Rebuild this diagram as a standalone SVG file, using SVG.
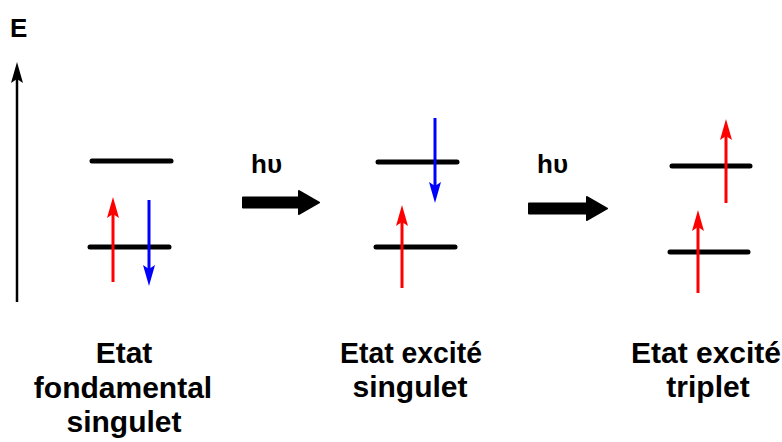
<svg xmlns="http://www.w3.org/2000/svg" width="782" height="442" viewBox="0 0 782 442">
<style>
.lvl{stroke:#000;stroke-width:5;stroke-linecap:round;fill:none}
.up{stroke:#FF0000;stroke-width:3;fill:none}
.dn{stroke:#0000FF;stroke-width:3;fill:none}
.big{fill:#000;stroke:#000;stroke-width:2;stroke-linejoin:round}
.lbl{font-family:"Liberation Sans",Arial,sans-serif;font-weight:bold;font-size:30px;fill:#000;text-anchor:middle}
.hv{font-family:"Liberation Sans",Arial,sans-serif;font-weight:bold;font-size:26px;fill:#000}
</style>
<defs>
<marker id="hr" markerUnits="userSpaceOnUse" markerWidth="22" markerHeight="12" refX="4" refY="6" orient="auto" viewBox="0 0 22 12"><path d="M0,0 L21,6 L0,12 L4,6 Z" fill="#FF0000"/></marker>
<marker id="hb" markerUnits="userSpaceOnUse" markerWidth="22" markerHeight="12" refX="4" refY="6" orient="auto" viewBox="0 0 22 12"><path d="M0,0 L21,6 L0,12 L4,6 Z" fill="#0000FF"/></marker>
<marker id="hk" markerUnits="userSpaceOnUse" markerWidth="22" markerHeight="12" refX="4" refY="6" orient="auto" viewBox="0 0 22 12"><path d="M0,0 L21,6 L0,12 L4,6 Z" fill="#000"/></marker>
</defs>
<g id="axis">
<line x1="17" y1="302" x2="17" y2="79" stroke="#000" stroke-width="2.5" marker-end="url(#hk)"/>
<text x="10" y="37" class="hv" font-size="25">E</text>
</g>
<g id="state1">
<line class="lvl" x1="92" y1="161" x2="171" y2="161"/>
<line class="lvl" x1="90" y1="247" x2="169" y2="247"/>
<text class="lbl" x="124" y="363">Etat</text>
<text class="lbl" x="123" y="398">fondamental</text>
<text class="lbl" x="124" y="432">singulet</text>
</g>
<g id="state2">
<line class="lvl" x1="378" y1="162" x2="457" y2="162"/>
<line class="lvl" x1="376" y1="247" x2="455" y2="247"/>
<text class="lbl" x="411" y="363" textLength="142" lengthAdjust="spacingAndGlyphs">Etat excité</text>
<text class="lbl" x="410" y="397">singulet</text>
</g>
<g id="state3">
<line class="lvl" x1="672" y1="166" x2="750" y2="166"/>
<line class="lvl" x1="670" y1="252" x2="748" y2="252"/>
<text class="lbl" x="706" y="363" font-size="28">Etat excité</text>
<text class="lbl" x="708" y="397">triplet</text>
</g>
<g id="connectors">
<line class="up" x1="113" y1="282" x2="113" y2="214" marker-end="url(#hr)"/>
<line class="dn" x1="149" y1="200" x2="149" y2="269" marker-end="url(#hb)"/>
<line class="dn" x1="435" y1="118" x2="435" y2="186" marker-end="url(#hb)"/>
<line class="up" x1="402" y1="288" x2="402" y2="222" marker-end="url(#hr)"/>
<line class="up" x1="726" y1="203" x2="726" y2="136" marker-end="url(#hr)"/>
<line class="up" x1="698" y1="293" x2="698" y2="227" marker-end="url(#hr)"/>
<path class="big" d="M243,197.5 L299,197.5 L299,191 L319,202.5 L299,214 L299,207.5 L243,207.5 Z"/>
<path class="big" d="M529,203.5 L587,203.5 L587,197 L607,208.5 L587,220 L587,213.5 L529,213.5 Z"/>
<text class="hv" x="251" y="173">hυ</text>
<text class="hv" x="537" y="173">hυ</text>
</g>
</svg>
